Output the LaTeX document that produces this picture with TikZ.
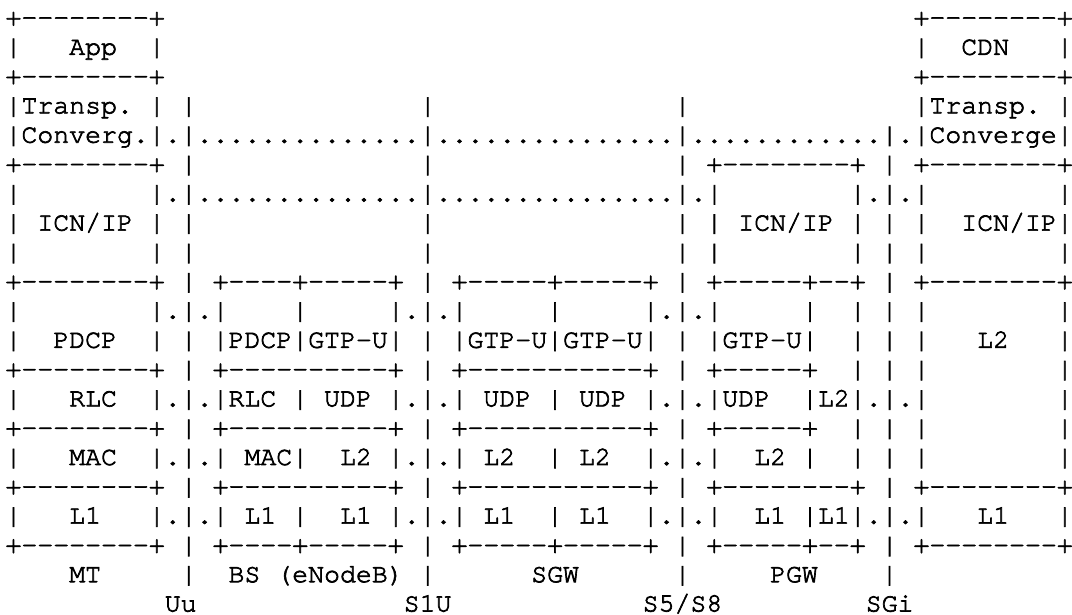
\documentclass[tikz,border=0pt]{standalone}
\usepackage{fontspec}
\setmonofont{texgyrecursor-regular.otf}[FakeBold=2.5]
\ExplSyntaxOn
\newcommand\rep[2]{\prg_replicate:nn{#1}{#2}}
\ExplSyntaxOff
\newcommand\gap[1]{\kern#1\fontcharwd\font`x\relax}
\tikzset{
  asciirow/.style={anchor=base west, inner sep=0pt, outer sep=0pt,
    font=\ttfamily\fontsize{26.55pt}{29.3pt}\selectfont, text=black}
}
\begin{document}
\begin{tikzpicture}
\fill[white] (0,0) rectangle (1072pt,615pt);
\useasboundingbox (0,0) rectangle (1072pt,615pt);
\node[asciirow] (r0) at (5.5pt,589.5pt) {+--------+\gap{47}+--------+};
\node[asciirow] (r1) at (5.5pt,560.2pt) {|\gap3App\gap2|\gap{47}|\gap2CDN\gap3|};
\node[asciirow] (r2) at (5.5pt,530.9pt) {+--------+\gap{47}+--------+};
\node[asciirow] (r3) at (5.5pt,501.6pt) {|Transp.\gap1|\gap1|\gap{14}|\gap{15}|\gap{14}|Transp.\gap1|};
\node[asciirow] (r4) at (5.5pt,472.3pt) {|Converg.|.|\rep{14}{.}|\rep{15}{.}|\rep{12}{.}|.|Converge|};
\node[asciirow] (r5) at (5.5pt,443.0pt) {+--------+\gap1|\gap{14}|\gap{15}|\gap1+--------+\gap1|\gap1+--------+};
\node[asciirow] (r6) at (5.5pt,413.7pt) {|\gap8|.|\rep{14}{.}|\rep{15}{.}|.|\gap8|.|.|\gap8|};
\node[asciirow] (r7) at (5.5pt,384.4pt) {|\gap1ICN/IP\gap1|\gap1|\gap{14}|\gap{15}|\gap1|\gap1ICN/IP\gap1|\gap1|\gap1|\gap2ICN/IP|};
\node[asciirow] (r8) at (5.5pt,355.1pt) {|\gap8|\gap1|\gap{14}|\gap{15}|\gap1|\gap8|\gap1|\gap1|\gap8|};
\node[asciirow] (r9) at (5.5pt,325.8pt) {+--------+\gap1|\gap1+----+-----+\gap1|\gap1+-----+-----+\gap1|\gap1+-----+--+\gap1|\gap1+--------+};
\node[asciirow] (r10) at (5.5pt,296.5pt) {|\gap8|.|.|\gap4|\gap5|.|.|\gap5|\gap5|.|.|\gap5|\gap2|\gap1|\gap1|\gap8|};
\node[asciirow] (r11) at (5.5pt,267.2pt) {|\gap2PDCP\gap2|\gap1|\gap1|PDCP|GTP-U|\gap1|\gap1|GTP-U|GTP-U|\gap1|\gap1|GTP-U|\gap2|\gap1|\gap1|\gap3L2\gap3|};
\node[asciirow] (r12) at (5.5pt,237.9pt) {+--------+\gap1|\gap1+----------+\gap1|\gap1+-----------+\gap1|\gap1+-----+\gap2|\gap1|\gap1|\gap8|};
\node[asciirow] (r13) at (5.5pt,208.6pt) {|\gap3RLC\gap2|.|.|RLC\gap1|\gap1UDP\gap1|.|.|\gap1UDP\gap1|\gap1UDP\gap1|.|.|UDP\gap2|L2|.|.|\gap8|};
\node[asciirow] (r14) at (5.5pt,179.3pt) {+--------+\gap1|\gap1+----------+\gap1|\gap1+-----------+\gap1|\gap1+-----+\gap2|\gap1|\gap1|\gap8|};
\node[asciirow] (r15) at (5.5pt,150.0pt) {|\gap3MAC\gap2|.|.|\gap1MAC|\gap2L2\gap1|.|.|\gap1L2\gap2|\gap1L2\gap2|.|.|\gap2L2\gap1|\gap2|\gap1|\gap1|\gap8|};
\node[asciirow] (r16) at (5.5pt,120.7pt) {+--------+\gap1|\gap1+----------+\gap1|\gap1+-----------+\gap1|\gap1+--------+\gap1|\gap1+--------+};
\node[asciirow] (r17) at (5.5pt,91.4pt) {|\gap3L1\gap3|.|.|\gap1L1\gap1|\gap2L1\gap1|.|.|\gap1L1\gap2|\gap1L1\gap2|.|.|\gap2L1\gap1|L1|.|.|\gap3L1\gap3|};
\node[asciirow] (r18) at (5.5pt,62.1pt) {+--------+\gap1|\gap1+----+-----+\gap1|\gap1+-----+-----+\gap1|\gap1+-----+--+\gap1|\gap1+--------+};
\node[asciirow] (r19) at (5.5pt,32.8pt) {\gap4MT\gap5|\gap2BS\gap1(eNodeB)\gap1|\gap6SGW\gap6|\gap5PGW\gap4|};
\node[asciirow] (r20) at (5.5pt,3.5pt) {\gap{10}Uu\gap{13}S1U\gap{12}S5/S8\gap9SGi};
\end{tikzpicture}
\end{document}
